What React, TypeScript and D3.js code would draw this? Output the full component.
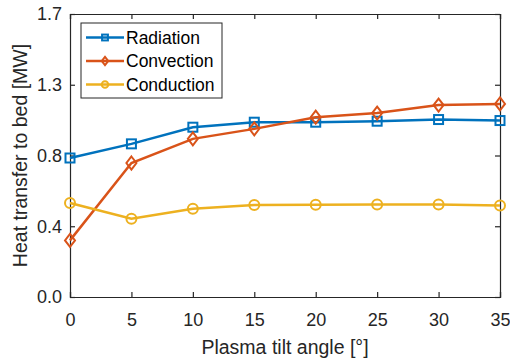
import React, { useEffect, useRef } from 'react';
import * as d3 from 'd3';

const angles = [0, 5, 10, 15, 20, 25, 30, 35];
const radiation = [0.835, 0.92, 1.02, 1.05, 1.05, 1.056, 1.066, 1.06];
const convection = [0.34, 0.805, 0.95, 1.01, 1.08, 1.105, 1.153, 1.16];
const conduction = [0.565, 0.47, 0.53, 0.553, 0.554, 0.555, 0.555, 0.55];
const yTicks = [0, 0.425, 0.85, 1.275, 1.7];
const yTickLabels = ['0.0', '0.4', '0.8', '1.3', '1.7'];

const series = [
  { name: 'Radiation', values: radiation, color: '#0072BD', marker: 'square' },
  { name: 'Convection', values: convection, color: '#D95319', marker: 'diamond' },
  { name: 'Conduction', values: conduction, color: '#EDB120', marker: 'circle' },
];

const drawMarker = (g, type, x, y, color, k = 1) => {
  if (type === 'square') {
    const h = 4.5 * k;
    g.append('rect').attr('x', x - h).attr('y', y - h).attr('width', 2 * h).attr('height', 2 * h)
      .attr('fill', 'none').attr('stroke', color).attr('stroke-width', 2);
  } else if (type === 'diamond') {
    const a = 6.5 * k, b = 5 * k;
    g.append('path').attr('d', `M${x},${y - a}L${x + b},${y}L${x},${y + a}L${x - b},${y}Z`)
      .attr('fill', 'none').attr('stroke', color).attr('stroke-width', 2);
  } else {
    g.append('circle').attr('cx', x).attr('cy', y).attr('r', 5 * k)
      .attr('fill', 'none').attr('stroke', color).attr('stroke-width', 2);
  }
};

const App = () => {
  const svgRef = useRef(null);

  useEffect(() => {
    const width = 510;
    const height = 358;
    const margin = { top: 14, right: 10, bottom: 61, left: 70 };
    const font = 'Liberation Sans, Arial, sans-serif';

    const svg = d3.select(svgRef.current).attr('width', width).attr('height', height);
    svg.selectAll('*').remove();
    svg.append('rect').attr('width', width).attr('height', height).attr('fill', '#fff');

    const x = d3.scaleLinear().domain([0, 35]).range([margin.left, width - margin.right]);
    const y = d3.scaleLinear().domain([0, 1.7]).range([height - margin.bottom, margin.top]);
    const [x0, x1] = x.range();
    const [y0, y1] = y.range();

    // eixos
    const axisColor = '#262626';
    const xAxis = svg.append('g').attr('transform', `translate(0,${y0})`)
      .call(d3.axisBottom(x).tickValues(angles).tickSize(-5).tickPadding(16));
    svg.append('g').attr('transform', `translate(${x0},0)`)
      .call(d3.axisLeft(y).tickValues(yTicks).tickFormat((d, i) => yTickLabels[i]).tickSize(-5).tickPadding(8));
    svg.append('g').attr('transform', `translate(0,${y1})`)
      .call(d3.axisTop(x).tickValues(angles).tickSize(-5).tickFormat(() => ''));
    svg.append('g').attr('transform', `translate(${x1},0)`)
      .call(d3.axisRight(y).tickValues(yTicks).tickSize(-5).tickFormat(() => ''));

    svg.selectAll('.domain').attr('stroke', axisColor).attr('stroke-width', 1.2);
    svg.selectAll('.tick line').attr('stroke', axisColor).attr('stroke-width', 1.2);
    svg.selectAll('.tick text').attr('fill', axisColor).style('font-family', font).style('font-size', '18px');
    xAxis.selectAll('.tick text').attr('dy', '0.71em');

    // rótulos
    svg.append('text').attr('x', (x0 + x1) / 2).attr('y', 354).attr('text-anchor', 'middle')
      .attr('fill', axisColor).style('font-family', font).style('font-size', '19.5px')
      .text('Plasma tilt angle [°]');
    svg.append('text').attr('transform', `translate(27,${(y0 + y1) / 2}) rotate(-90)`)
      .attr('text-anchor', 'middle').attr('fill', axisColor).style('font-family', font).style('font-size', '19.5px')
      .text('Heat transfer to bed [MW]');

    // séries
    series.forEach((s) => {
      const line = d3.line().x((d, i) => x(angles[i])).y((d) => y(d));
      const g = svg.append('g');
      g.append('path').datum(s.values).attr('fill', 'none').attr('stroke', s.color)
        .attr('stroke-width', 2.5).attr('d', line);
      s.values.forEach((v, i) => drawMarker(g, s.marker, x(angles[i]), y(v), s.color));
    });

    // legenda
    const lg = svg.append('g');
    lg.append('rect').attr('x', 81).attr('y', 23).attr('width', 141).attr('height', 75)
      .attr('fill', '#fff').attr('stroke', axisColor).attr('stroke-width', 1);
    series.forEach((s, i) => {
      const ly = 37.5 + i * 23.5;
      lg.append('line').attr('x1', 86).attr('x2', 124).attr('y1', ly).attr('y2', ly)
        .attr('stroke', s.color).attr('stroke-width', 2.5);
      drawMarker(lg, s.marker, 105, ly, s.color, 0.65);
      lg.append('text').attr('x', 126).attr('y', ly).attr('dy', '0.35em').attr('fill', '#000')
        .style('font-family', font).style('font-size', '17.5px').text(s.name);
    });
  }, []);

  return <svg ref={svgRef} style={{ position: 'absolute', left: 0, top: 0 }}></svg>;
};

export default App;
